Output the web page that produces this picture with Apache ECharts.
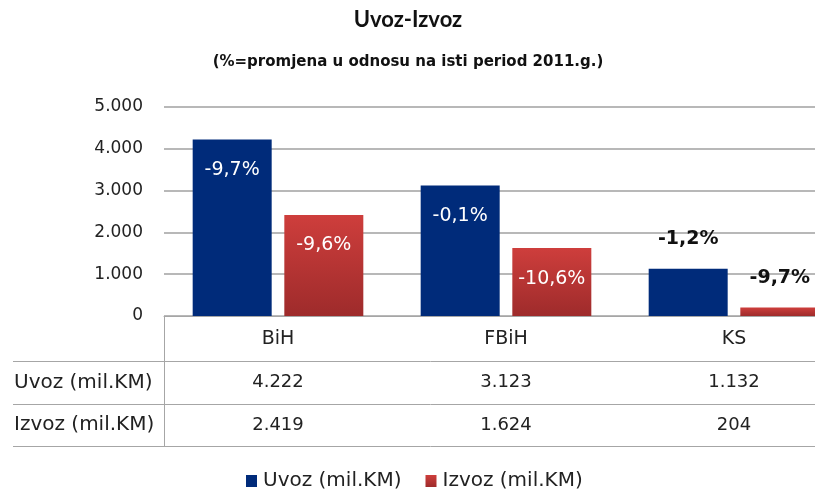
<!DOCTYPE html>
<html>
<head>
<meta charset="utf-8">
<script src="https://cdn.jsdelivr.net/npm/echarts@6/dist/echarts.min.js"></script>
<style>
  html, body { margin: 0; padding: 0; background: #fff; overflow: hidden; }
  #frame { width: 815px; height: 492px; overflow: hidden; }
  #chart { width: 848px; height: 492px; }
</style>
</head>
<body>
<div id="frame"><div id="chart"></div></div>
<script>
var categories = ['BiH', 'FBiH', 'KS'];
var uvoz = [4222, 3123, 1132];
var izvoz = [2419, 1624, 204];
var uvozChange = ['-9,7%', '-0,1%', '-1,2%'];
var izvozChange = ['-9,6%', '-10,6%', '-9,7%'];
var yTicks = [0, 1000, 2000, 3000, 4000, 5000];

var font = '"DejaVu Sans", sans-serif';
var titleFont = 'Lato, sans-serif';

function fmt(v) {
    return String(v).replace(/\B(?=(\d{3})+(?!\d))/g, '.');
}

// small bars get the label above them, in black bold
function labelFor(value, text) {
    if (value < 1500) {
        return {
            show: true, position: 'top', distance: 20, formatter: text,
            color: '#111', fontWeight: 'bold', fontSize: 19, fontFamily: font
        };
    }
    return {
        show: true, position: 'insideTop', distance: 21, formatter: text,
        color: '#fff', fontSize: 19, fontFamily: font
    };
}

var chart = echarts.init(document.getElementById('chart'));

// the chart is wider than the visible frame, so the titles are centred on the frame by hand
var option = {
    animation: false,
    legend: {
        bottom: 1, left: 246, padding: 0,
        itemWidth: 11, itemHeight: 12, itemGap: 24,
        icon: 'rect',
        textStyle: { fontFamily: font, fontSize: 20, color: '#222', padding: [0, 0, 0, 1] },
        data: ['Uvoz (mil.KM)', 'Izvoz (mil.KM)']
    },
    grid: { left: 164, right: 0, top: 107, bottom: 176 },
    xAxis: {
        type: 'category',
        data: categories,
        axisLine: { show: true, lineStyle: { color: '#a6a6a6', width: 1 } },
        axisTick: { show: false },
        axisLabel: {
            margin: 2,
            formatter: function (val, idx) {
                return '{c|' + val + '}\n{v|' + fmt(uvoz[idx]) + '}\n{v|' + fmt(izvoz[idx]) + '}';
            },
            rich: {
                c: { fontFamily: font, fontSize: 19, color: '#222', lineHeight: 43 },
                v: { fontFamily: font, fontSize: 18, color: '#222', lineHeight: 43 }
            }
        }
    },
    yAxis: {
        type: 'value',
        min: 0, max: 5000, interval: 1000,
        axisLine: { show: false },
        axisTick: { show: false },
        splitLine: { lineStyle: { color: '#a0a0a0', width: 1.5 } },
        axisLabel: {
            margin: 21,
            fontFamily: font, fontSize: 17, color: '#222',
            formatter: function (v) { return yTicks.indexOf(v) >= 0 ? fmt(v) : ''; }
        }
    },
    graphic: [
        {
            type: 'text', x: 408, y: 20,
            style: { text: 'Uvoz-Izvoz', font: 'bold 22px ' + titleFont, fill: '#111', align: 'center', verticalAlign: 'middle' }
        },
        {
            type: 'text', x: 408, y: 62,
            style: { text: '(%=promjena u odnosu na isti period 2011.g.)', font: 'bold 15px ' + font, fill: '#111', align: 'center', verticalAlign: 'middle' }
        },
        { type: 'line', shape: { x1: 164.5, y1: 316, x2: 164.5, y2: 446 }, style: { stroke: '#a6a6a6', lineWidth: 1 } },
        { type: 'line', shape: { x1: 13, y1: 361.5, x2: 848, y2: 361.5 }, style: { stroke: '#a6a6a6', lineWidth: 1 } },
        { type: 'line', shape: { x1: 13, y1: 404.5, x2: 848, y2: 404.5 }, style: { stroke: '#a6a6a6', lineWidth: 1 } },
        { type: 'line', shape: { x1: 13, y1: 446.5, x2: 848, y2: 446.5 }, style: { stroke: '#a6a6a6', lineWidth: 1 } },
        { type: 'text', left: 14, top: 373, style: { text: 'Uvoz (mil.KM)', font: '20px ' + font, fill: '#222' } },
        { type: 'text', left: 14, top: 415, style: { text: 'Izvoz (mil.KM)', font: '20px ' + font, fill: '#222' } }
    ],
    series: [
        {
            name: 'Uvoz (mil.KM)',
            type: 'bar',
            barWidth: 79,
            barGap: '16%',
            itemStyle: { color: '#002b7a' },
            data: uvoz.map(function (v, i) {
                return { value: v, label: labelFor(v, uvozChange[i]) };
            })
        },
        {
            name: 'Izvoz (mil.KM)',
            type: 'bar',
            barWidth: 79,
            itemStyle: {
                color: new echarts.graphic.LinearGradient(0, 0, 0, 1, [
                    { offset: 0, color: '#ce3e3c' },
                    { offset: 1, color: '#9e2b2b' }
                ])
            },
            data: izvoz.map(function (v, i) {
                return { value: v, label: labelFor(v, izvozChange[i]) };
            })
        }
    ]
};

chart.setOption(option);
</script>
</body>
</html>
